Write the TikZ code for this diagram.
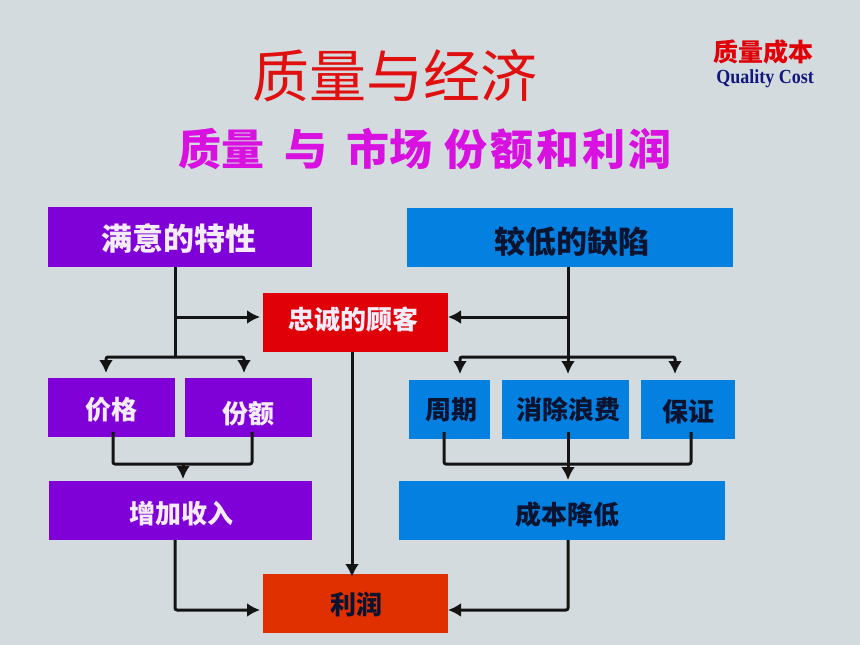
\documentclass[tikz,border=0pt]{standalone}
\usepackage{fontspec}
\setmainfont{Liberation Serif}
\newfontfamily\cjk{Noto Sans CJK SC}
\usetikzlibrary{arrows.meta,calc}
\definecolor{bgc}{HTML}{D4DBDE}
\definecolor{purp}{HTML}{8000D8}
\definecolor{blu}{HTML}{0480E0}
\definecolor{redb}{HTML}{E00008}
\definecolor{orb}{HTML}{E03000}
\definecolor{inkd}{HTML}{0A1430}
\definecolor{navy}{HTML}{101880}
\definecolor{titler}{HTML}{E01010}
\definecolor{mag}{HTML}{D810E0}
\definecolor{lw}{HTML}{F4ECF8}
% kern (shifts by half), extra height (lowers by half), extra depth (raises by half)
\newcommand{\off}[4]{\kern#1pt\raisebox{0pt}[\dimexpr\height+#2pt\relax][\dimexpr\depth+#3pt\relax]{#4}}
\tikzset{
  x=1pt,y=-1pt,
  boxn/.style={inner sep=0pt,outer sep=0pt,anchor=north west,align=center,font=\cjk\bfseries\fontsize{26}{28}\selectfont},
  big/.style={font=\cjk\bfseries\fontsize{31}{33}\selectfont},
  lightt/.style={text=lw},
  darkt/.style={text=inkd},
  conn/.style={draw=black!92,line width=3pt,line join=round,rounded corners=2pt},
  arr/.style={conn,-{Latex[length=13pt,width=14pt]}}
}
\begin{document}
\begin{tikzpicture}
\useasboundingbox (0,0) rectangle (860,645);
\fill[bgc] (0,0) rectangle (860,645);
% titles
\node[inner sep=0pt,text=titler,font=\cjk\fontsize{57}{60}\selectfont] (title) at (395,76) {质量与经济};
\node[inner sep=0pt,text=mag,font=\cjk\bfseries\fontsize{43}{46}\selectfont] (subtitle) at (425,149) {质量\hspace{20pt}与\hspace{19pt}市场\hspace{12pt}份\hspace{3pt}额\hspace{3pt}和\hspace{3pt}利\hspace{3pt}润};
\node[inner sep=0pt,text=redb,font=\cjk\bfseries\fontsize{25}{27}\selectfont] (brandcn) at (763,52) {质量成本};
\node[inner sep=0pt,text=navy,font=\bfseries\fontsize{20}{22}\selectfont] (branden) at (765,79) {\scalebox{0.9}[1]{Quality Cost}};
% boxes
\node[boxn,big,lightt,fill=purp,minimum width=264pt,minimum height=60pt] (A) at (48,207) {\off{-2}{4}{0}{满意的特性}};
\node[boxn,big,darkt,fill=blu,minimum width=326pt,minimum height=59pt] (B) at (407,208) {\off{3}{9}{0}{较低的缺陷}};
\node[boxn,lightt,fill=redb,minimum width=185pt,minimum height=59pt] (C) at (263,293) {\off{-4}{0}{5}{忠诚的顾客}};
\node[boxn,lightt,fill=purp,minimum width=127pt,minimum height=59pt] (D) at (48,378) {\off{-1}{4}{0}{价格}};
\node[boxn,lightt,fill=purp,minimum width=127pt,minimum height=59pt] (E) at (185,378) {\off{0}{12}{0}{份额}};
\node[boxn,lightt,fill=purp,minimum width=263pt,minimum height=59pt] (F) at (49,481) {\off{2}{6}{0}{增加收入}};
\node[boxn,darkt,fill=blu,minimum width=81pt,minimum height=59pt] (G) at (409,380) {\off{4}{0}{0}{周期}};
\node[boxn,darkt,fill=blu,minimum width=127pt,minimum height=59pt] (H) at (502,380) {\off{6}{0}{0}{消除浪费}};
\node[boxn,darkt,fill=blu,minimum width=94pt,minimum height=59pt] (I) at (641,380) {\off{0}{4}{0}{保证}};
\node[boxn,darkt,fill=blu,minimum width=326pt,minimum height=59pt] (J) at (399,481) {\off{10}{8}{0}{成本降低}};
\node[boxn,darkt,fill=orb,minimum width=185pt,minimum height=59pt] (K) at (263,574) {\off{2}{2}{0}{利润}};
% junctions
\coordinate (la) at (175,317);
\coordinate (lb) at (175,357);
\coordinate (lc) at (106,357);
\coordinate (ld) at (244,357);
\coordinate (le) at (113,464);
\coordinate (lf) at (252,464);
\coordinate (lg) at (183,464);
\coordinate (lh) at (175,610);
\coordinate (ra) at (568,317);
\coordinate (rb) at (568,357);
\coordinate (rc) at (460,357);
\coordinate (rd) at (675,357);
\coordinate (re) at (444,464);
\coordinate (rf) at (691,464);
\coordinate (rg) at (568,464);
\coordinate (rh) at (568,610);
\coordinate (mid) at (352,400);
% left connectors
\draw[conn] (la |- A.south) -- (lb);
\draw[arr] (la) -- ($(la -| C.west)+(-3,0)$);
\draw[arr] (lb) -- (lc) -- ($(lc |- D.north)+(0,-5)$);
\draw[arr] (lb) -- (ld) -- ($(ld |- E.north)+(0,-5)$);
\draw[conn] ($(le |- D.south)+(0,-5)$) -- (le) -- (lf) -- ($(lf |- E.south)+(0,-5)$);
\draw[arr] (lg) -- ($(lg |- F.north)+(0,-2)$);
\draw[arr] (lh |- F.south) -- (lh) -- ($(lh -| K.west)+(-3,0)$);
% middle
\draw[arr] (mid |- C.south) -- ($(mid |- K.north)+(0,3)$);
% right connectors
\draw[conn] (ra |- B.south) -- (rb);
\draw[arr] (ra) -- (ra -| C.east);
\draw[arr] (rb) -- ($(rb |- G.north)+(0,-6)$);
\draw[arr] (rb) -- (rc) -- ($(rc |- G.north)+(0,-6)$);
\draw[arr] (rb) -- (rd) -- ($(rd |- G.north)+(0,-6)$);
\draw[conn] ($(re |- G.south)+(0,-7)$) -- (re) -- (rf) -- ($(rf |- I.south)+(0,-7)$);
\draw[arr] ($(rg |- H.south)+(0,-7)$) -- ($(rg |- J.north)+(0,-1)$);
\draw[arr] (rh |- J.south) -- (rh) -- (rh -| K.east);
\end{tikzpicture}
\end{document}
